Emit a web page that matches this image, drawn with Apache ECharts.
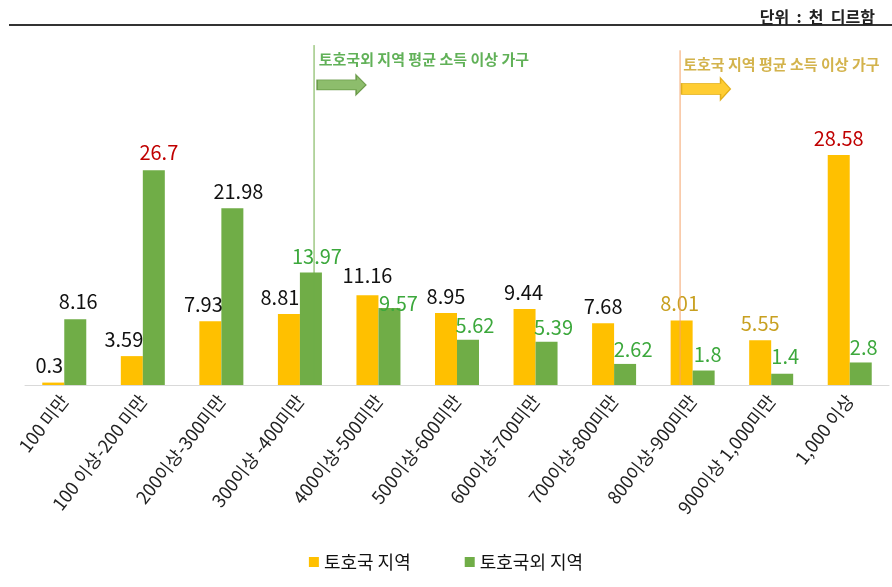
<!DOCTYPE html>
<html>
<head>
<meta charset="utf-8">
<script src="https://cdn.jsdelivr.net/npm/echarts@6/dist/echarts.min.js"></script>
<style>
html,body{margin:0;padding:0;background:#fff;}
#chart{width:892px;height:587px;}
</style>
</head>
<body>
<div id="chart"></div>
<script>
// ---- data ----
var categories = ['100 미만','100 이상-200 미만','200이상-300미만','300이상 -400미만','400이상-500미만','500이상-600미만','600이상-700미만','700이상-800미만','800이상-900미만','900이상 1,000미만','1,000 이상'];
var seriesNames = ['토호국 지역','토호국외 지역'];
var emirates = [0.3, 3.59, 7.93, 8.81, 11.16, 8.95, 9.44, 7.68, 8.01, 5.55, 28.58];
var nonEmirates = [8.16, 26.7, 21.98, 13.97, 9.57, 5.62, 5.39, 2.62, 1.8, 1.4, 2.8];
var unitText = '단위  :  천  디르함';
var noteGreen = '토호국외 지역 평균 소득 이상 가구';
var noteOrange = '토호국 지역 평균 소득 이상 가구';
// annotation positions in data space (category index, value)
var greenLineX = 3.18, greenLineTop = 42.25;
var orangeLineX = 7.84, orangeLineTop = 41.6;
var greenTextPos = [3.24, 40.5], greenArrowPos = [3.53, 37.3];
var orangeTextPos = [7.88, 39.8], orangeArrowPos = [8.17, 36.8];

// ---- label styling (separate from data) ----
var BLACK = '#111111', GREEN_T = '#3CA83C', GOLD_T = '#C8A020', RED_T = '#C00000';
var emiratesLabelColor = [BLACK,BLACK,BLACK,BLACK,BLACK,BLACK,BLACK,BLACK,GOLD_T,GOLD_T,RED_T];
var nonEmiratesLabelColor = [BLACK,RED_T,BLACK,GREEN_T,GREEN_T,GREEN_T,GREEN_T,GREEN_T,GREEN_T,GREEN_T,GREEN_T];
var emiratesLabelOffset = [[-4,0],[-8,0],[-7,0],[-9,0],[0,-3],[0,0],[-1,0],[0,0],[-2,0],[0,0],[0,0]];
var nonEmiratesLabelOffset = [[3,-1],[5,-1],[6,0],[6,1],[9,12],[7,3],[7,3],[8,2],[4,1],[3,0],[3,2]];

var LABEL_FONT = '"Liberation Sans Narrow", "Noto Sans CJK KR", sans-serif';
var KFONT = '"Noto Sans CJK KR", sans-serif';

function buildData(vals, colors, offsets) {
  return vals.map(function (v, i) {
    return { value: v, label: { color: colors[i], offset: offsets[i] } };
  });
}

var arrowPath = 'path://M0,5 L39,5 L39,0 L49,10 L39,20 L39,15 L0,15 Z';

var chart = echarts.init(document.getElementById('chart'), null, { renderer: 'canvas' });
chart.setOption({
  backgroundColor: '#ffffff',
  animation: false,
  title: {
    text: unitText,
    right: 12, top: 4,
    textStyle: { fontFamily: KFONT, fontSize: 16, fontWeight: 'bold', color: '#222' }
  },
  graphic: [{
    type: 'line', silent: true,
    shape: { x1: 9, y1: 25, x2: 892, y2: 25 },
    style: { stroke: '#333', lineWidth: 2 }
  }],
  legend: {
    data: seriesNames,
    left: 'center', top: 548,
    itemWidth: 10, itemHeight: 10, itemGap: 54,
    icon: 'rect',
    textStyle: { fontFamily: KFONT, fontSize: 18, color: '#111' }
  },
  grid: { left: 25, right: 3, top: 31, bottom: 202, containLabel: false },
  xAxis: [{
    type: 'category',
    data: categories,
    axisLine: { lineStyle: { color: '#D9D9D9', width: 1 } },
    axisTick: { show: false },
    axisLabel: { rotate: 52, margin: 12, interval: 0, fontFamily: KFONT, fontSize: 18, color: '#222' }
  }, {
    type: 'value', min: -0.5, max: 10.5, show: false
  }],
  yAxis: { type: 'value', min: 0, max: 44, show: false, splitLine: { show: false } },
  series: [{
    name: seriesNames[0], type: 'bar', barWidth: 22, barGap: '0%',
    itemStyle: { color: '#FFC000' },
    label: { show: true, position: 'top', distance: 7, fontFamily: LABEL_FONT, fontSize: 20 },
    data: buildData(emirates, emiratesLabelColor, emiratesLabelOffset),
    z: 2
  }, {
    name: seriesNames[1], type: 'bar', barWidth: 22, barGap: '0%',
    itemStyle: { color: '#70AD47' },
    label: { show: true, position: 'top', distance: 7, fontFamily: LABEL_FONT, fontSize: 20 },
    data: buildData(nonEmirates, nonEmiratesLabelColor, nonEmiratesLabelOffset),
    z: 2
  }, {
    type: 'line', xAxisIndex: 1, silent: true, symbol: 'none',
    lineStyle: { color: '#70AD47', width: 1 },
    data: [[greenLineX, 0], [greenLineX, greenLineTop]], z: 5
  }, {
    type: 'line', xAxisIndex: 1, silent: true, symbol: 'none',
    lineStyle: { color: '#F4A46A', width: 1 },
    data: [[orangeLineX, 0], [orangeLineX, orangeLineTop]], z: 5
  }, {
    type: 'scatter', xAxisIndex: 1, silent: true,
    symbol: arrowPath, symbolSize: [49, 20],
    itemStyle: { color: '#70AD47', borderColor: '#5B8F38', borderWidth: 1 },
    data: [greenArrowPos], z: 6
  }, {
    type: 'scatter', xAxisIndex: 1, silent: true,
    symbol: arrowPath, symbolSize: [49, 22],
    itemStyle: { color: '#FFC000', borderColor: '#D9A300', borderWidth: 1 },
    data: [orangeArrowPos], z: 6
  }, {
    type: 'scatter', xAxisIndex: 1, silent: true, symbolSize: 0,
    label: { show: true, position: 'right', distance: 0, formatter: noteGreen,
      fontFamily: KFONT, fontSize: 15, fontWeight: 'bold', color: '#3A9E2E' },
    data: [greenTextPos], z: 6
  }, {
    type: 'scatter', xAxisIndex: 1, silent: true, symbolSize: 0,
    label: { show: true, position: 'right', distance: 0, formatter: noteOrange,
      fontFamily: KFONT, fontSize: 15, fontWeight: 'bold', color: '#C8A020' },
    data: [orangeTextPos], z: 6
  }]
});
</script>
</body>
</html>
